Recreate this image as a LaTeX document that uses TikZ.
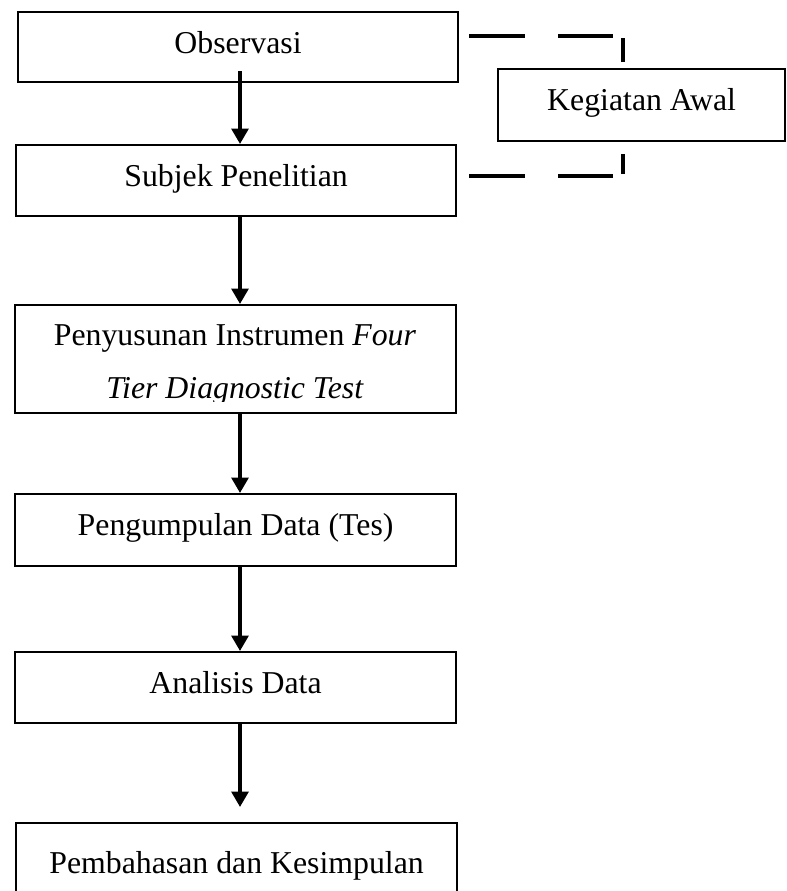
\documentclass[tikz,border=0pt]{standalone}
\usepackage{fontspec}
\setmainfont{Liberation Serif}
\usetikzlibrary{arrows.meta,calc}
\begin{document}
\begin{tikzpicture}[x=0.75pt,y=-0.75pt,
  txt/.style={font=\fontsize{23.85}{39.75}\selectfont},
  box/.style={draw,line width=1.6pt,inner xsep=0pt,inner ysep=0pt,txt,anchor=north west},
  arr/.style={line width=2.7pt,-{Triangle[width=12.5pt,length=11.5pt]}},
  dsh/.style={line width=2.3pt,dash pattern=on 42pt off 24.75pt on 41.25pt off 9pt on 19.5pt off 60pt}]
\useasboundingbox (0,0) rectangle (786,891);
\node[box,minimum width=330pt,text height=30.75pt,text depth=21.75pt] (b1) at (17,11) {Observasi};
\node[box,minimum width=330pt,text height=30.75pt,text depth=22.5pt] (b2) at (15,144) {Subjek Penelitian};
\node[box,minimum width=330.75pt,text height=81pt,text depth=0pt] (b3) at (14,304) {};
\node[box,minimum width=330.75pt,text height=30.75pt,text depth=23.25pt] (b4) at (14,493) {Pengumpulan Data (Tes)};
\node[box,minimum width=330.75pt,text height=30.75pt,text depth=22.5pt] (b5) at (14,651) {Analisis Data};
\node[box,minimum width=330.75pt,text height=37.5pt,text depth=30pt] (b6) at (15,822) {Pembahasan dan Kesimpulan};
\node[box,minimum width=215.25pt,text height=30.75pt,text depth=23.25pt] (keg) at (497,68) {Kegiatan Awal};
\begin{scope}
  \clip (15,305) rectangle (454,401);
  \node[txt,anchor=base,inner sep=0pt] (b3t) at (235,345)
    {\begin{tabular}[t]{@{}c@{}}Penyusunan Instrumen \textit{Four}\\ \textit{Tier Diagnostic Test}\end{tabular}};
\end{scope}
\coordinate (ax) at (240,0);
\draw[arr,shorten <=-9pt] (b1.south -| ax) -- (b2.north -| ax);
\draw[arr] (b2.south -| ax) -- (b3.north -| ax);
\draw[arr] (b3.south -| ax) -- (b4.north -| ax);
\draw[arr] (b4.south -| ax) -- (b5.north -| ax);
\draw[arr,shorten >=11.25pt] (b5.south -| ax) -- (b6.north -| ax);
\draw[dsh] ($(b1.north east)+(10,25)$) -| ($(keg.north west)+(126,-6)$);
\draw[dsh] ($(b2.north east)+(12,32)$) -| ($(keg.south west)+(126,12)$);
\end{tikzpicture}
\end{document}
